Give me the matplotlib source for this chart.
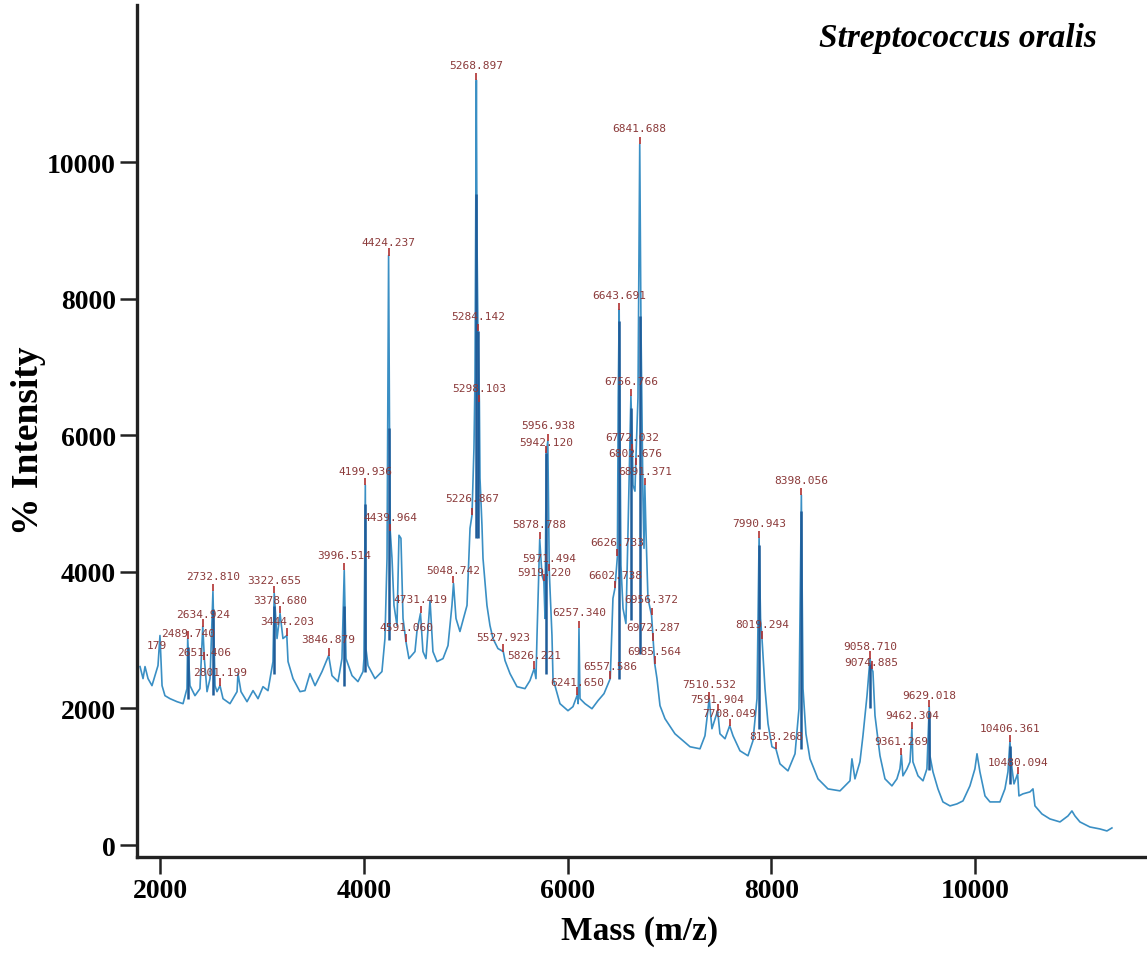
import matplotlib
matplotlib.use('Agg')
import matplotlib.pyplot as plt

# spectrum trace: m/z and intensity
trace_mz = [2031, 2060, 2079, 2108, 2146, 2175, 2204, 2223, 2243, 2271, 2320, 2387, 2445, 2483,
            2490, 2512, 2560, 2608, 2635, 2651, 2676, 2705, 2733, 2753, 2772, 2801, 2830, 2897,
            2965, 2974, 3003, 3061, 3119, 3167, 3215, 3263, 3311, 3323, 3350, 3379, 3407, 3444,
            3456, 3504, 3571, 3619, 3667, 3716, 3783, 3847, 3879, 3937, 3975, 3997, 4014, 4072,
            4129, 4178, 4187, 4200, 4206, 4226, 4293, 4360, 4389, 4409, 4424, 4433, 4440, 4457,
            4476, 4505, 4524, 4543, 4563, 4591, 4620, 4678, 4697, 4731, 4755, 4784, 4823, 4851,
            4890, 4948, 4996, 5034, 5049, 5073, 5111, 5179, 5208, 5227, 5246, 5256, 5269, 5275,
            5284, 5298, 5304, 5323, 5333, 5371, 5400, 5429, 5477, 5528, 5545, 5593, 5660, 5737,
            5785, 5826, 5843, 5853, 5879, 5901, 5919, 5930, 5942, 5957, 5971, 5997, 6007, 6074,
            6151, 6199, 6242, 6249, 6257, 6267, 6315, 6382, 6440, 6498, 6558, 6584, 6603, 6627,
            6635, 6644, 6661, 6681, 6709, 6729, 6757, 6772, 6777, 6796, 6803, 6825, 6842, 6854,
            6873, 6883, 6891, 6902, 6921, 6956, 6972, 6986, 7008, 7037, 7085, 7181, 7326, 7422,
            7470, 7511, 7537, 7592, 7614, 7663, 7708, 7740, 7807, 7884, 7932, 7971, 7991, 8005,
            8019, 8048, 8077, 8115, 8153, 8192, 8269, 8337, 8375, 8398, 8414, 8442, 8481, 8558,
            8654, 8770, 8866, 8885, 8914, 8962, 8991, 9030, 9059, 9075, 9087, 9107, 9155, 9203,
            9270, 9318, 9347, 9361, 9376, 9415, 9444, 9462, 9472, 9521, 9569, 9607, 9629, 9636,
            9665, 9713, 9761, 9829, 9896, 9954, 10021, 10069, 10089, 10117, 10166, 10214, 10310,
            10358, 10387, 10406, 10426, 10445, 10480, 10493, 10531, 10599, 10628, 10647, 10714,
            10791, 10888, 10965, 11003, 11032, 11080, 11176, 11273, 11340, 11388]
trace_int = [2613, 2437, 2613, 2437, 2334, 2481, 2628, 3068, 2334, 2187, 2143, 2099, 2070, 2290,
             3024, 2334, 2187, 2290, 3200, 2716, 2246, 2437, 3714, 2334, 2246, 2334, 2143, 2070,
             2246, 2510, 2246, 2099, 2261, 2143, 2319, 2261, 2686, 3685, 3024, 3391, 3024, 3068,
             2686, 2437, 2246, 2261, 2510, 2334, 2540, 2775, 2481, 2393, 2730, 4022, 2730, 2481,
             2393, 2540, 2730, 5270, 2877, 2628, 2437, 2540, 3024, 4198, 8632, 6107, 4595, 4198,
             3509, 3215, 4536, 4492, 3318, 2980, 2730, 2833, 3127, 3391, 2833, 2730, 3582, 2833,
             2686, 2730, 2921, 3509, 3831, 3318, 3127, 3509, 4639, 4830, 5813, 6841, 11201, 8896,
             7531, 6489, 5373, 4683, 4198, 3509, 3215, 3024, 2877, 2833, 2701, 2510, 2319, 2290,
             2408, 2584, 2437, 3068, 4477, 3949, 3861, 3318, 5740, 5916, 4008, 3068, 2437, 2070,
             1967, 2026, 2202, 2070, 3171, 2143, 2070, 1996, 2114, 2217, 2437, 3611, 3758, 4228,
             6547, 7839, 4096, 3464, 3244, 4595, 6577, 5769, 5270, 5182, 5564, 6547, 10261, 7575,
             5079, 4345, 5270, 4595, 3611, 3362, 2995, 2657, 2437, 2041, 1850, 1629, 1439, 1409,
             1600, 2143, 1703, 1967, 1629, 1556, 1747, 1600, 1380, 1307, 1527, 2143, 4492, 3318,
             3024, 2290, 1776, 1439, 1409, 1189, 1086, 1336, 1996, 5123, 2290, 1629, 1262, 969,
             822, 793, 940, 1262, 969, 1218, 1600, 2187, 2730, 2584, 2540, 1894, 1307, 969,
             866, 969, 1116, 1321, 1013, 1116, 1218, 1703, 1218, 1013, 940, 1116, 2026, 1307,
             1072, 822, 631, 573, 602, 646, 866, 1116, 1336, 1072, 719, 631, 631,
             822, 1072, 1512, 1116, 895, 1042, 719, 749, 778, 822, 573, 455,
             382, 338, 426, 499, 426, 338, 264, 235, 206, 250]

# peak labels: text, m/z of the peak, height of the label, top of the peak
peak_labels = ['179', '2489.740', '2634.924', '2651.406', '2732.810', '2801.199', '3322.655',
               '3378.680', '3444.203', '3846.879', '3996.514', '4199.936', '4424.237', '4439.964',
               '4591.060', '4731.419', '5048.742', '5226.867', '5268.897', '5284.142', '5298.103',
               '5527.923', '5826.221', '5878.788', '5919.220', '5942.120', '5956.938', '5971.494',
               '6241.650', '6257.340', '6557.586', '6602.738', '6626.733', '6643.691', '6756.766',
               '6772.032', '6802.676', '6841.688', '6891.371', '6956.372', '6972.287', '6985.564',
               '7510.532', '7591.904', '7708.049', '7990.943', '8019.294', '8153.268', '8398.056',
               '9058.710', '9074.885', '9361.269', '9462.304', '9629.018', '10406.361', '10480.094']
peak_mz = [2194, 2489.74, 2634.92, 2651.41, 2732.81, 2801.2, 3322.66, 3378.68, 3444.2, 3846.88,
           3996.51, 4199.94, 4424.24, 4439.96, 4591.06, 4731.42, 5048.74, 5226.87, 5268.9, 5284.14,
           5298.1, 5527.92, 5826.22, 5878.79, 5919.22, 5942.12, 5956.94, 5971.49, 6241.65, 6257.34,
           6557.59, 6602.74, 6626.73, 6643.69, 6756.77, 6772.03, 6802.68, 6841.69, 6891.37, 6956.37,
           6972.29, 6985.56, 7510.53, 7591.9, 7708.05, 7990.94, 8019.29, 8153.27, 8398.06, 9058.71,
           9074.89, 9361.27, 9462.3, 9629.02, 10406.36, 10480.09]
label_int = [2936, 3112, 3376, 2833, 3934, 2540, 3876, 3582, 3274, 3024, 4243, 5476, 8837, 4800,
             3186, 3597, 4022, 5079, 11421, 7751, 6694, 3053, 2789, 4698, 3993, 5901, 6151, 4198,
             2393, 3406, 2628, 3949, 4433, 8059, 6797, 5975, 5740, 10496, 5476, 3597, 3200, 2848,
             2363, 2143, 1938, 4712, 3244, 1600, 5344, 2921, 2686, 1527, 1908, 2202, 1718, 1218]
peak_top = [None, 3024, 3200, 2716, 3714, 2334, 3685, 3391, 3068, 2775, 4022, 5270, 8632, 4595,
            2980, 3391, 3831, 4830, 11201, 7531, 6489, 2833, 2584, 4477, 3861, 5740, 5916, 4008,
            2202, 3171, 2437, 3758, 4228, 7839, 6577, 5769, 5564, 10261, 5270, 3362, 2995, 2657,
            2143, 1967, 1747, 4492, 3024, 1409, 5123, 2730, 2584, 1321, 1703, 2026, 1512, 1042]

# darker centroid sticks on the strongest peaks
stick_mz = [2489.74, 2732.81, 3322.66, 3996.51, 4199.94, 4424.24, 5268.9, 5284.14, 5942.12,
            6643.69, 6756.77, 6841.69, 7990.94, 8398.06, 9058.71, 9629.02, 10406.36]
stick_lo = [2143, 2200, 2500, 2334, 2540, 3000, 4500, 4500, 2500, 2437, 3300, 2800, 1700, 1400,
            2000, 1100, 900]
stick_hi = [2900, 3450, 3500, 3500, 5000, 6107, 9527, 7531, 5740, 7678, 6400, 7750, 4400, 4888,
            2650, 1950, 1450]


def to_axis(mz):
    # the drawn mass axis sits slightly off the spectrum's own calibration
    return -266 + 1.0193 * mz


serif = 'Liberation Serif'

fig = plt.figure(figsize=(11.47, 9.54), dpi=100)
ax = fig.add_axes([0.1194, 0.1006, 0.8806, 0.8931])

ax.plot([to_axis(m) for m in trace_mz], trace_int, color='#3a8fc4', lw=1.2)
ax.vlines([to_axis(m) for m in stick_mz], stick_lo, stick_hi, color='#1f5c99', lw=1.8)

for txt, m, ty, top in zip(peak_labels, peak_mz, label_int, peak_top):
    x = to_axis(m)
    if top is not None:
        ax.vlines(x, top, top + 105, color='#b03030', lw=1.2)
    ax.text(x, ty, txt, ha='center', va='center', fontsize=8,
            family='DejaVu Sans Mono', color='#8b3a3a')

ax.set_xlim(1774, 11686)
ax.set_ylim(-176, 12302)
ax.set_xticks([2000, 4000, 6000, 8000, 10000])
ax.set_yticks([0, 2000, 4000, 6000, 8000, 10000])

for side in ['top', 'right']:
    ax.spines[side].set_visible(False)
for side in ['left', 'bottom']:
    ax.spines[side].set_linewidth(2.4)
    ax.spines[side].set_color('#222222')

ax.tick_params(direction='out', length=12, width=1.8, color='#222222', pad=3)
for lab in ax.get_xticklabels() + ax.get_yticklabels():
    lab.set_family(serif)
    lab.set_weight('bold')
    lab.set_size(20)

ax.set_xlabel('Mass (m/z)', family=serif, weight='bold', size=24)
ax.set_ylabel('% Intensity', family=serif, weight='bold', size=27)
ax.xaxis.set_label_coords(0.498, -0.068)
ax.yaxis.set_label_coords(-0.09, 0.49)

ax.text(0.9505, 0.9624, 'Streptococcus oralis', transform=ax.transAxes, ha='right',
        va='center', family=serif, weight='bold', style='italic', size=24)

fig.savefig('out.png', dpi=100)
